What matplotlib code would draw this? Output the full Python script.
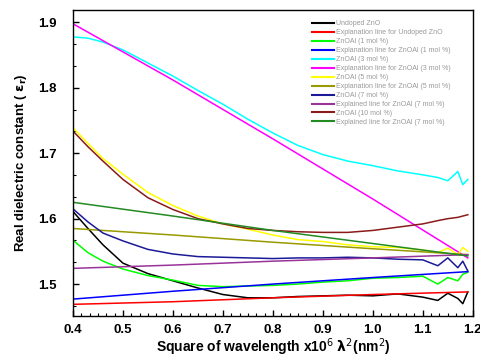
import matplotlib
matplotlib.use('Agg')
import matplotlib.pyplot as plt
from matplotlib.ticker import AutoMinorLocator

plt.rcParams['font.family'] = ['Liberation Sans', 'DejaVu Sans']

# measured curves
x_meas = [0.40, 0.43, 0.46, 0.50, 0.55, 0.60, 0.65, 0.70, 0.75, 0.80, 0.85,
          0.90, 0.95, 1.00, 1.05, 1.10, 1.13, 1.15, 1.17, 1.18, 1.19]
undoped = [1.611, 1.585, 1.560, 1.532, 1.516, 1.505, 1.494, 1.484, 1.479, 1.479, 1.481,
           1.482, 1.483, 1.482, 1.485, 1.480, 1.475, 1.486, 1.478, 1.470, 1.488]
al1 = [1.567, 1.548, 1.535, 1.523, 1.513, 1.506, 1.498, 1.496, 1.497, 1.498, 1.500,
       1.503, 1.505, 1.509, 1.510, 1.512, 1.500, 1.510, 1.505, 1.515, 1.518]
al3 = [1.878, 1.876, 1.870, 1.858, 1.838, 1.818, 1.796, 1.775, 1.752, 1.731, 1.712,
       1.698, 1.688, 1.681, 1.673, 1.667, 1.663, 1.658, 1.672, 1.652, 1.660]
al5 = [1.739, 1.715, 1.692, 1.668, 1.640, 1.620, 1.604, 1.592, 1.584, 1.575, 1.568,
       1.565, 1.560, 1.557, 1.556, 1.552, 1.548, 1.555, 1.545, 1.556, 1.550]
al7 = [1.615, 1.595, 1.578, 1.566, 1.553, 1.546, 1.542, 1.541, 1.540, 1.539, 1.540,
       1.540, 1.541, 1.540, 1.538, 1.537, 1.528, 1.540, 1.525, 1.535, 1.520]
al10 = [1.734, 1.710, 1.688, 1.660, 1.632, 1.614, 1.600, 1.592, 1.585, 1.582, 1.580,
        1.579, 1.579, 1.582, 1.587, 1.592, 1.597, 1.600, 1.602, 1.604, 1.606]

# explanation (fit) lines
x_fit = [0.40, 0.60, 0.80, 1.00, 1.19]
fit_undoped = [1.469, 1.473, 1.479, 1.484, 1.488]
fit_al1 = [1.477, 1.489, 1.500, 1.510, 1.519]
fit_al3 = [1.898, 1.812, 1.722, 1.630, 1.540]
fit_al5 = [1.585, 1.575, 1.564, 1.554, 1.545]
fit_al7 = [1.524, 1.529, 1.535, 1.540, 1.545]
fit_al10 = [1.625, 1.604, 1.582, 1.562, 1.543]

series = [
    (x_meas, undoped, 'black', 'Undoped ZnO'),
    (x_fit, fit_undoped, 'red', 'Explanation line for Undoped ZnO'),
    (x_meas, al1, 'lime', 'ZnOAl (1 mol %)'),
    (x_fit, fit_al1, 'blue', 'Explanation line for ZnOAl (1 mol %)'),
    (x_meas, al3, 'cyan', 'ZnOAl (3 mol %)'),
    (x_fit, fit_al3, 'magenta', 'Explanation line for ZnOAl (3 mol %)'),
    (x_meas, al5, 'yellow', 'ZnOAl (5 mol %)'),
    (x_fit, fit_al5, '#999900', 'Explanation line for ZnOAl (5 mol %)'),
    (x_meas, al7, '#1a1a99', 'ZnOAl (7 mol %)'),
    (x_fit, fit_al7, '#993399', 'Explained line for ZnOAl (7 mol %)'),
    (x_meas, al10, '#8b1a1a', 'ZnOAl (10 mol %)'),
    (x_fit, fit_al10, '#228b22', 'Explained line for ZnOAl (7 mol %)'),
]

fig = plt.figure(figsize=(4.8, 3.58), dpi=100)
ax = fig.add_axes([0.152, 0.117, 0.833, 0.855])

for xs, ys, c, lab in series:
    ax.plot(xs, ys, color=c, lw=1.1, label=lab)

ax.set_xlim(0.4, 1.2)
ax.set_ylim(1.451, 1.919)
ax.set_xticks([0.4, 0.5, 0.6, 0.7, 0.8, 0.9, 1.0, 1.1, 1.2])
ax.set_yticks([1.5, 1.6, 1.7, 1.8, 1.9])
ax.xaxis.set_minor_locator(AutoMinorLocator(6))
ax.yaxis.set_minor_locator(AutoMinorLocator(3))
ax.tick_params(which='both', direction='in', top=False, right=False)
ax.tick_params(which='major', length=4, width=1)
ax.tick_params(which='minor', length=2, width=0.8)
ax.tick_params(axis='x', pad=6)
ax.tick_params(axis='y', pad=12)
for lbl in ax.get_xticklabels() + ax.get_yticklabels():
    lbl.set_fontweight('bold')
    lbl.set_fontsize(9.5)
for s in ax.spines.values():
    s.set_linewidth(1.0)

ax.set_xlabel('Square of wavelength x10$^6$ $\\mathbf{\\lambda}^2$(nm$^2$)',
              fontsize=10, fontweight='bold', labelpad=0)
ax.set_ylabel('Real dielectric constant ( $\\mathbf{\\varepsilon_r}$)',
              fontsize=9.5, fontweight='bold', labelpad=6)

leg = ax.legend(loc='upper left', bbox_to_anchor=(0.59, 0.975), frameon=False,
                fontsize=5, handlelength=3.2, labelspacing=0.28,
                handletextpad=0.3, borderaxespad=0)
for t in leg.get_texts():
    t.set_color('#999999')
for h in leg.get_lines():
    h.set_linewidth(1.5)

plt.savefig('out.png', dpi=100)
